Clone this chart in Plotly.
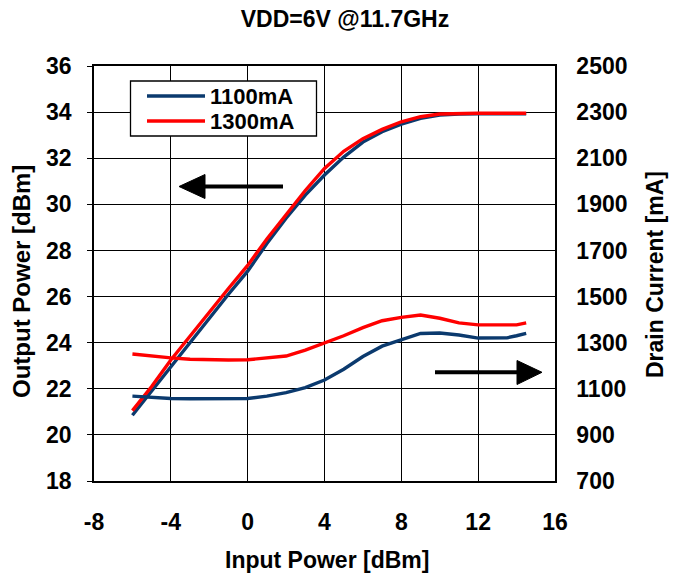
import plotly.graph_objects as go

# ---------------- data ----------------
pin = [-6, -5, -4, -3, -2, -1, 0, 1, 2, 3, 4, 5, 6, 7, 8, 9, 10, 11, 12, 13, 13.5, 14, 14.5]

pout_1100 = [20.85, 21.9, 23.0, 24.05, 25.05, 26.1, 27.1, 28.3, 29.4, 30.4, 31.27, 32.05, 32.7,
             33.15, 33.48, 33.73, 33.87, 33.92, 33.93, 33.93, 33.93, 33.93, 33.93]
pout_1300 = [21.05, 22.1, 23.25, 24.3, 25.3, 26.35, 27.35, 28.5, 29.55, 30.6, 31.56, 32.3, 32.85,
             33.25, 33.58, 33.8, 33.92, 33.95, 33.95, 33.95, 33.95, 33.95, 33.95]

idd_1100 = [1068, 1062, 1058, 1057, 1057, 1057, 1058, 1068, 1083, 1105, 1138, 1185, 1240,
            1285, 1314, 1340, 1342, 1333, 1320, 1320, 1321, 1330, 1340]
idd_1300 = [1251, 1242, 1234, 1228, 1225, 1225, 1226, 1233, 1242, 1268, 1298, 1330, 1365,
            1395, 1410, 1420, 1406, 1386, 1377, 1377, 1377, 1377, 1386]

series_names = ["1100mA", "1300mA"]
series_colors = ["#0b3a6e", "#ff0000"]

x_ticks = [-8, -4, 0, 4, 8, 12, 16]
y_ticks = [18, 20, 22, 24, 26, 28, 30, 32, 34, 36]
y2_ticks = [700, 900, 1100, 1300, 1500, 1700, 1900, 2100, 2300, 2500]

# ---------------- layout geometry ----------------
W, H = 680, 579
L, R, T, B = 94, 125, 66, 98
PW, PH = W - L - R, H - T - B

def px(xp):
    return (xp - L) / PW

def py(yp):
    return (H - B - yp) / PH

FONT = "Liberation Sans, Arial, sans-serif"
TXT = dict(family=FONT, size=23, color="black", weight="bold")

fig = go.Figure()

for name, col, pout in zip(series_names, series_colors, [pout_1100, pout_1300]):
    fig.add_trace(go.Scatter(x=pin, y=pout, mode="lines", name=name, showlegend=False,
                             line=dict(color=col, width=3.4), yaxis="y"))
for name, col, idd in zip(series_names, series_colors, [idd_1100, idd_1300]):
    fig.add_trace(go.Scatter(x=pin, y=idd, mode="lines", name=name, showlegend=False,
                             line=dict(color=col, width=3.4), yaxis="y2"))

shapes = []
# legend box (drawn by hand to match the compact original)
shapes.append(dict(type="rect", xref="paper", yref="paper",
                   x0=px(130.5), x1=px(316.5), y0=py(81), y1=py(136),
                   fillcolor="white", line=dict(color="black", width=1.3), layer="above"))
leg_rows_y = [96, 121]
annotations = []
for name, col, ry in zip(series_names, series_colors, leg_rows_y):
    shapes.append(dict(type="line", xref="paper", yref="paper",
                       x0=px(147), x1=px(205), y0=py(ry), y1=py(ry),
                       line=dict(color=col, width=3.6), layer="above"))
    annotations.append(dict(text=f"<b>{name}</b>", xref="paper", yref="paper",
                            x=px(209), y=py(ry), xanchor="left", yanchor="middle",
                            borderpad=0, valign="middle",
                            showarrow=False, font=dict(family=FONT, size=22, color="black")))

# left arrow (Pout -> left axis)
shapes.append(dict(type="line", xref="paper", yref="paper",
                   x0=px(200), x1=px(283), y0=py(186.5), y1=py(186.5),
                   line=dict(color="black", width=4)))
shapes.append(dict(type="path", xref="paper", yref="paper",
                   path=f"M {px(179)} {py(186.5)} L {px(205)} {py(174.5)} L {px(205)} {py(198.5)} Z",
                   fillcolor="black", line=dict(color="black", width=1)))
# right arrow (Idd -> right axis)
shapes.append(dict(type="line", xref="paper", yref="paper",
                   x0=px(435), x1=px(520), y0=py(372.3), y1=py(372.3),
                   line=dict(color="black", width=4)))
shapes.append(dict(type="path", xref="paper", yref="paper",
                   path=f"M {px(542)} {py(372.3)} L {px(517)} {py(360.5)} L {px(517)} {py(384.5)} Z",
                   fillcolor="black", line=dict(color="black", width=1)))

annotations += [
    dict(text="<b>Output Power [dBm]</b>", xref="paper", yref="paper",
         x=px(21), y=py(282), textangle=-90, showarrow=False,
         font=dict(family=FONT, size=24, color="black"), xanchor="center", yanchor="middle"),
    dict(text="<b>Drain Current [mA]</b>", xref="paper", yref="paper",
         x=px(655), y=py(275), textangle=-90, showarrow=False,
         font=dict(family=FONT, size=23, color="black"), xanchor="center", yanchor="middle"),
    dict(text="<b>Input Power [dBm]</b>", xref="paper", yref="paper",
         x=px(327), y=py(560), showarrow=False,
         font=dict(family=FONT, size=23, color="black"), xanchor="center", yanchor="middle"),
]

fig.update_layout(
    width=W, height=H,
    margin=dict(l=L, r=R, t=T, b=B, pad=0),
    paper_bgcolor="white", plot_bgcolor="white",
    font=dict(family=FONT, color="black"),
    title=dict(text="<b>VDD=6V @11.7GHz</b>", x=345 / W, y=1 - 19 / H,
               xanchor="center", yanchor="middle",
               font=dict(family=FONT, size=23, color="black")),
    xaxis=dict(range=[-8, 16], tickvals=x_ticks, ticktext=[str(v) for v in x_ticks],
               showgrid=True, gridcolor="black", gridwidth=1,
               showline=True, linecolor="black", linewidth=1.5, mirror=True,
               zeroline=False, ticks="", ticklen=0, ticklabelstandoff=20,
               tickfont=TXT),
    yaxis=dict(range=[18, 36], tickvals=y_ticks, ticktext=[str(v) for v in y_ticks],
               showgrid=True, gridcolor="black", gridwidth=1,
               showline=True, linecolor="black", linewidth=1.5,
               zeroline=False, ticks="outside", ticklen=5, tickcolor="black",
               ticklabelstandoff=11, tickfont=TXT),
    yaxis2=dict(range=[700, 2500], tickvals=y2_ticks, ticktext=[str(v) for v in y2_ticks],
                overlaying="y", side="right", showgrid=False,
                showline=True, linecolor="black", linewidth=1.5,
                zeroline=False, ticks="", ticklen=0, ticklabelstandoff=15,
                tickfont=TXT),
    shapes=shapes,
    annotations=annotations,
    showlegend=False,
)

fig.write_html("out.html", config={"displayModeBar": False},
               post_script="document.body.style.margin='0';")
